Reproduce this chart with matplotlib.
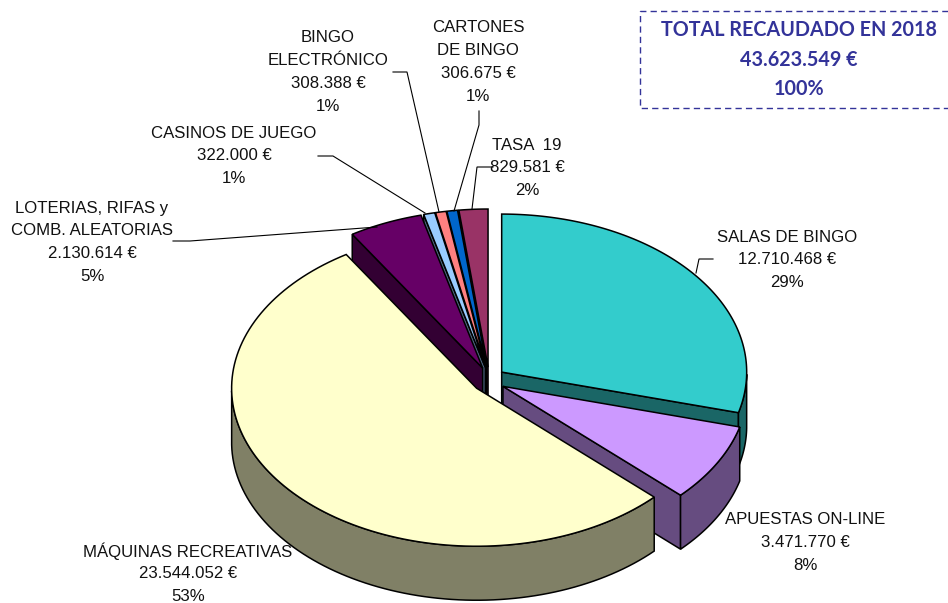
import numpy as np
import matplotlib
matplotlib.use("Agg")
import matplotlib.pyplot as plt
from matplotlib.patches import Polygon
from matplotlib import font_manager as fm

# Data, clockwise from 12 o'clock
categories = ["SALAS DE BINGO", "APUESTAS ON-LINE", "MÁQUINAS RECREATIVAS",
              "LOTERIAS, RIFAS y COMB. ALEATORIAS", "CASINOS DE JUEGO",
              "BINGO ELECTRÓNICO", "CARTONES DE BINGO", "TASA 19"]
values = [12710468, 3471770, 23544052, 2130614, 322000, 308388, 306675, 829581]
top_colors = ["#33CCCC", "#CC99FF", "#FFFFCC", "#660066", "#99CCFF", "#FF8080", "#0066CC", "#993366"]
side_colors = ["#1A6666", "#664C80", "#808066", "#330033", "#4D6680", "#804040", "#003366", "#4D1A33"]
draw_order = [7, 6, 5, 4, 3, 0, 1, 2]

label_lines = [
    ["SALAS DE BINGO", "12.710.468 €", "29%"],
    ["APUESTAS ON-LINE", "3.471.770 €", "8%"],
    ["MÁQUINAS RECREATIVAS", "23.544.052 €", "53%"],
    ["LOTERIAS, RIFAS y", "COMB. ALEATORIAS", "2.130.614 €", "5%"],
    ["CASINOS DE JUEGO", "322.000 €", "1%"],
    ["BINGO", "ELECTRÓNICO", "308.388 €", "1%"],
    ["CARTONES", "DE BINGO", "306.675 €", "1%"],
    ["TASA  19", "829.581 €", "2%"],
]
label_x = [787, 805, 188, 92, 234, 328, 478, 527]
label_y = [236, 519, 550, 207, 132, 37, 27, 144]
leaders = [
    [(713, 259), (699, 259), (696, 273)],
    None,
    None,
    [(173, 241), (190, 241), (377, 227)],
    [(318, 156), (333, 156), (425, 213)],
    [(393, 72), (407, 72), (439, 212)],
    [(479, 111), (479, 125), (454, 211)],
    [(493, 167), (477, 167), (472, 209)],
]
total_lines = ["TOTAL RECAUDADO EN 2018", "43.623.549 €", "100%"]

# Projection of the pie
CX, CY = 489, 380
RX, RY = 245, 158
DEPTH = 54
EX, EY = 16, 13

fig = plt.figure(figsize=(9.48, 6.03), dpi=100)
ax = fig.add_axes([0, 0, 1, 1])
ax.set_xlim(0, 948)
ax.set_ylim(603, 0)
ax.axis("off")

fracs = np.array(values) / np.sum(values)
edges = np.concatenate([[0], np.cumsum(fracs)]) * 2 * np.pi

LW = 1.1
for i in draw_order:
    a, b = edges[i], edges[i + 1]
    mid = (a + b) / 2
    ox = CX + EX * np.sin(mid)
    oy = CY - EY * np.cos(mid)
    t = np.linspace(a, b, 120)
    rim = np.column_stack([ox + RX * np.sin(t), oy - RY * np.cos(t)])
    apex = np.array([[ox, oy]])
    down = np.array([0, DEPTH])
    # only the cut faces turned towards the viewer
    shown = []
    if np.sin(a) < -1e-9:
        shown.append(rim[0])
    if np.sin(b) > 1e-9:
        shown.append(rim[-1])
    for p in shown:
        face = np.array([[ox, oy], p, p + down, [ox, oy + DEPTH]])
        ax.add_patch(Polygon(face, closed=True, fc=side_colors[i], ec="black", lw=LW, joinstyle="miter"))
    vis = np.cos(t) < 0
    if vis.any():
        r = rim[vis]
        wall = np.vstack([r, (r + down)[::-1]])
        ax.add_patch(Polygon(wall, closed=True, fc=side_colors[i], ec="black", lw=LW, joinstyle="miter"))
    ax.add_patch(Polygon(np.vstack([apex, rim]), closed=True, fc=top_colors[i], ec="black", lw=LW, joinstyle="miter"))

LINE_H = 22.8
for lines, x, y in zip(label_lines, label_x, label_y):
    for k, s in enumerate(lines):
        ax.text(x, y + 1 + k * LINE_H, s, ha="center", va="center", fontsize=12.1,
                family="Liberation Sans", color="#111111")

for pts in leaders:
    if pts:
        xs, ys = zip(*pts)
        ax.plot(xs, ys, color="black", lw=0.8, solid_joinstyle="miter")

ink = "#333399"
ax.plot([948, 640, 640, 948], [11, 11, 108, 108], color=ink, lw=1.0, ls=(0, (4.5, 3)))

fp = fm.FontProperties(family="Lato", weight="bold")
r = fig.canvas.get_renderer()
probe = ax.text(0, 0, total_lines[0], fontproperties=fp, fontsize=17)
w = probe.get_window_extent(r).width
probe.remove()
size = min(17.0, 17.0 * 275 / w)
for k, s in enumerate(total_lines):
    ax.text(799, 30 + k * 29.5, s, ha="center", va="center", fontproperties=fp, fontsize=size, color=ink)

fig.savefig("out.png", dpi=100)
